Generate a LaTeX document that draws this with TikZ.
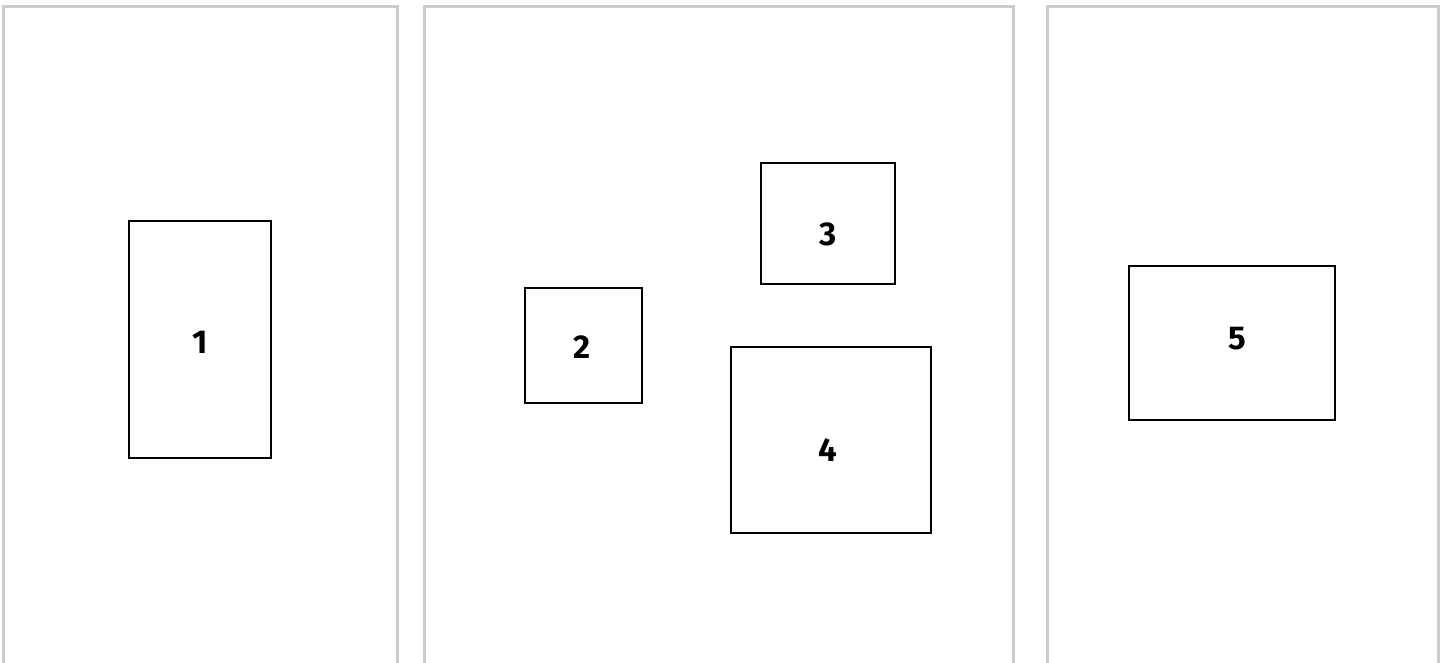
\documentclass[tikz,border=0pt]{standalone}
\usepackage{fontspec}
\setmainfont{Fira Sans}
\begin{document}
\begin{tikzpicture}[x=1pt,y=-1pt,
  panel/.style={draw=black!20, line width=3pt},
  blk/.style={draw=black, line width=2pt, fill=white},
  lbl/.style={font=\fontsize{33}{38}\selectfont\bfseries, inner sep=0pt}]
\useasboundingbox (0,0) rectangle (1448,662);
\clip (0,0) rectangle (1448,662);
\fill[white] (0,0) rectangle (1448,662);
% panels
\draw[panel] (3.5,680) -- (3.5,6.5) -- (397,6.5) -- (397,680);
\draw[panel] (424,680) -- (424,6.5) -- (1013.5,6.5) -- (1013.5,680);
\draw[panel] (1047,680) -- (1047,6.5) -- (1438.5,6.5) -- (1438.5,680);
% boxes
\draw[blk] (129,221) rectangle (271,458);
\draw[blk] (525,288) rectangle (642,403);
\draw[blk] (761,163) rectangle (895,284);
\draw[blk] (731,347) rectangle (931,533);
\draw[blk] (1129,266) rectangle (1335,420);
% labels
\node[lbl] (n1) at (200,342) {1};
\node[lbl] (n2) at (582,347) {2};
\node[lbl] (n3) at (828,234) {3};
\node[lbl] (n4) at (828,450) {4};
\node[lbl] (n5) at (1237,339) {5};
\end{tikzpicture}
\end{document}
